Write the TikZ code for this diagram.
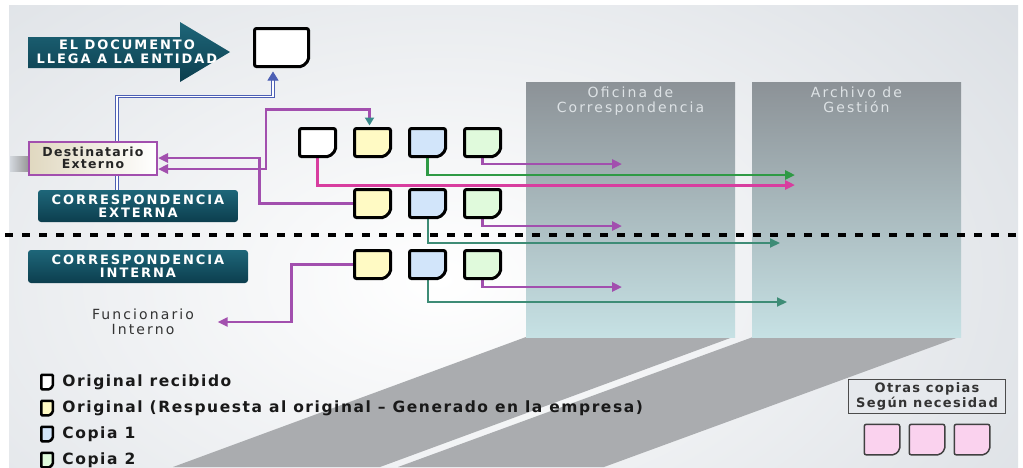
\documentclass[tikz,border=0pt]{standalone}
\usepackage{fontspec}
\usetikzlibrary{shapes, arrows.meta, positioning, calc}
\newfontfamily\capfont[LetterSpace=15]{DejaVu Sans}
\newfontfamily\legfont[LetterSpace=10]{DejaVu Sans}
\newfontfamily\txtfont[LetterSpace=15]{DejaVu Sans}

\definecolor{bgcol}{HTML}{D3D8DE}
\definecolor{boxtop}{HTML}{1E6679}
\definecolor{boxbot}{HTML}{0C3E4E}
\definecolor{coltop}{HTML}{8C9297}
\definecolor{colbot}{HTML}{C6E1E4}
\definecolor{collab}{HTML}{DDE2E5}
\definecolor{shadowcol}{HTML}{AAACAF}
\definecolor{destleft}{HTML}{E0D8C0}
\definecolor{otrasfill}{HTML}{E6E9ED}
\definecolor{linkpurple}{HTML}{A24FAE}
\definecolor{linkmagenta}{HTML}{D83D9F}
\definecolor{linkgreen}{HTML}{2F9A45}
\definecolor{linkteal}{HTML}{3E8C76}
\definecolor{linkblue}{HTML}{4C5FB4}
\definecolor{tipteal}{HTML}{3A8A8A}
\definecolor{docyellow}{HTML}{FFFAC4}
\definecolor{docblue}{HTML}{D2E5FA}
\definecolor{docgreen}{HTML}{E0FADC}
\definecolor{docpink}{HTML}{FAD2EE}

\begin{document}
\begin{tikzpicture}[x=1pt, y=-1pt, thick,
  doc/.style={rectangle, minimum width=36pt, minimum height=28pt, inner sep=0pt, outer sep=0pt},
  legdoc/.style={doc, minimum width=11.5pt, minimum height=14.5pt},
  pinkdoc/.style={doc, minimum width=35.5pt, minimum height=30.5pt},
  docline/.style={draw=black, line width=3pt, rounded corners=2pt},
  tealbox/.style={rounded corners=3pt, top color=boxtop, bottom color=boxbot,
    text=white, align=center, font=\capfont\bfseries\fontsize{13}{13}\selectfont},
  column/.style={top color=coltop, bottom color=colbot,
    minimum width=209pt, minimum height=255pt, inner sep=0pt},
  collabel/.style={text=collab, align=center, font=\txtfont\fontsize{14}{15}\selectfont},
  legtxt/.style={text=black!90, font=\legfont\bfseries\fontsize{15.5}{16}\selectfont},
  link/.style={line width=2.5pt, -{Triangle[length=10pt, width=9pt]}},
  purplink/.style={link, draw=linkpurple},
  maglink/.style={link, draw=linkmagenta, line width=3pt},
  grnlink/.style={link, draw=linkgreen},
  teallink/.style={link, draw=linkteal, line width=2pt},
  bluelink/.style={draw=linkblue, line width=0.8pt, double=white, double distance=1.8pt,
    -{Triangle[length=9pt, width=11pt, fill=linkblue]}},
]
\useasboundingbox (0,0) rectangle (1023,467);
\fill[white] (0,0) rectangle (1023,467);
\fill[bgcol] (9,5) rectangle (1018,467);
\begin{scope}
  \clip (9,5) rectangle (1018,467);
  \shade[inner color=white, outer color=bgcol] (440,280) ellipse (900 and 560);
\end{scope}

\fill[shadowcol] (526,337) -- (733,337) -- (380,467) -- (173,467) -- cycle;
\fill[shadowcol] (753,337) -- (959,337) -- (604,467) -- (398,467) -- cycle;
\node[column] (ofi) at (630.5,209.5) {};
\node[column] (arch) at (856.5,209.5) {};
\node[collabel, below=2pt of ofi.north] {Oficina de\\Correspondencia};
\node[collabel, below=2pt of arch.north] {Archivo de\\Gestión};

\draw[line width=4.5pt, dash pattern=on 8pt off 9pt] (5,235) -- (1018,235);

\shade[top color=boxtop, bottom color=boxbot] (28,37) -- (180,37) -- (180,22) -- (230,52)
  -- (180,82) -- (180,68) -- (28,68) -- cycle;
\node[text=white, align=center, font=\capfont\bfseries\fontsize{13}{14}\selectfont] (entry)
  at (127,52) {EL DOCUMENTO\\LLEGA A LA ENTIDAD};
\node[doc, minimum width=54pt, minimum height=38pt] (topdoc) at (281.5,47.5) {};

\node[tealbox, minimum width=200pt, minimum height=32pt] (ext) at (138,206) {CORRESPONDENCIA\\EXTERNA};
\node[tealbox, minimum width=220pt, minimum height=33pt] (int) at (138,266.5) {CORRESPONDENCIA\\INTERNA};
\draw[bluelink, shorten >=5pt] ([xshift=-21pt]ext.north) |- ($(topdoc.south)+(-8.5,30)$)
  -- ([xshift=-8.5pt]topdoc.south);

\shade[left color=bgcol, right color=black!40] (10,156) rectangle (28,171);
\node[draw=linkpurple, line width=2pt, left color=destleft, right color=white,
  minimum width=128pt, minimum height=33pt, align=center, text=black!85,
  font=\legfont\bfseries\fontsize{12.5}{12.5}\selectfont] (dest) at (93,158) {Destinatario\\Externo};
\node[align=center, text=black!80, font=\txtfont\fontsize{14}{15}\selectfont] (func)
  at (143,322) {Funcionario\\Interno};

\node[doc] (w1) at (317.5,142.5) {};
\node[doc, right=19pt of w1] (y1) {};
\node[doc, right=19pt of y1] (b1) {};
\node[doc, right=19pt of b1] (g1) {};
\node[doc, below=33pt of y1] (y2) {};
\node[doc, right=19pt of y2] (b2) {};
\node[doc, right=19pt of b2] (g2) {};
\node[doc, below=33pt of y2] (y3) {};
\node[doc, right=19pt of y3] (b3) {};
\node[doc, right=19pt of b3] (g3) {};

\coordinate (ofi1) at (622,164);
\coordinate (ofi2) at (622,226);
\coordinate (ofi3) at (622,287);
\coordinate (arch1) at (795,175);
\coordinate (arch2) at (795,185);
\coordinate (arch3) at (780,243);
\coordinate (arch4) at (787,302);

\draw[maglink] (w1.south) |- (arch2);
\draw[grnlink] (b1.south) |- (arch1);
\draw[purplink] (g1.south) |- (ofi1);
\draw[purplink] (y2.west) -- ++(-95,0) |- (dest.east);
\draw[purplink, {Triangle[length=8pt, width=9pt, color=tipteal, fill=tipteal]}-{Triangle[length=10pt, width=9pt]},
  shorten <=3pt] ([xshift=-3pt]y1.north) -- ++(0,-19) -| ($(dest.east)+(108,11)$) -- ($(dest.east)+(0,11)$);
\draw[teallink] (b2.south) |- (arch3);
\draw[purplink] (g2.south) |- (ofi2);
\draw[purplink] (y3.west) -- ++(-63,0) |- ([xshift=20pt]func.east);
\draw[teallink] (b3.south) |- (arch4);
\draw[purplink] (g3.south) |- (ofi3);

\foreach \d/\c in {topdoc/white, w1/white, y1/docyellow, b1/docblue, g1/docgreen,
    y2/docyellow, b2/docblue, g2/docgreen, y3/docyellow, b3/docblue, g3/docgreen}
  \draw[docline, fill=\c] (\d.north west) -- (\d.north east) -- ([yshift=6pt]\d.south east)
    -- ([xshift=-6pt]\d.south east) -- (\d.south west) -- cycle;

\node[legdoc] (lg1) at (47,382) {};
\node[legdoc, below=11.5pt of lg1] (lg2) {};
\node[legdoc, below=11.5pt of lg2] (lg3) {};
\node[legdoc, below=11.5pt of lg3] (lg4) {};
\foreach \d/\c in {lg1/white, lg2/docyellow, lg3/docblue, lg4/docgreen}
  \draw[docline, line width=2.5pt, rounded corners=1pt, fill=\c] (\d.north west) -- (\d.north east)
    -- ([yshift=3pt]\d.south east) -- ([xshift=-3pt]\d.south east) -- (\d.south west) -- cycle;
\node[legtxt, right=6pt of lg1] {Original recibido};
\node[legtxt, right=6pt of lg2] {Original (Respuesta al original – Generado en la empresa)};
\node[legtxt, right=6pt of lg3] {Copia 1};
\node[legtxt, right=6pt of lg4] {Copia 2};

\node[draw=black!70, line width=1.2pt, fill=otrasfill, minimum width=157pt, minimum height=32pt,
  align=center, text=black!80, font=\legfont\bfseries\fontsize{13}{13}\selectfont] (otras)
  at (927,396.5) {Otras copias\\Según necesidad};
\node[pinkdoc, below=10.5pt of otras] (pk2) {};
\node[pinkdoc, left=9.5pt of pk2] (pk1) {};
\node[pinkdoc, right=9.5pt of pk2] (pk3) {};
\foreach \d in {pk1, pk2, pk3}
  \draw[docline, draw=black!75, line width=1.5pt, fill=docpink] (\d.north west) -- (\d.north east)
    -- ([yshift=5pt]\d.south east) -- ([xshift=-5pt]\d.south east) -- (\d.south west) -- cycle;
\end{tikzpicture}
\end{document}
